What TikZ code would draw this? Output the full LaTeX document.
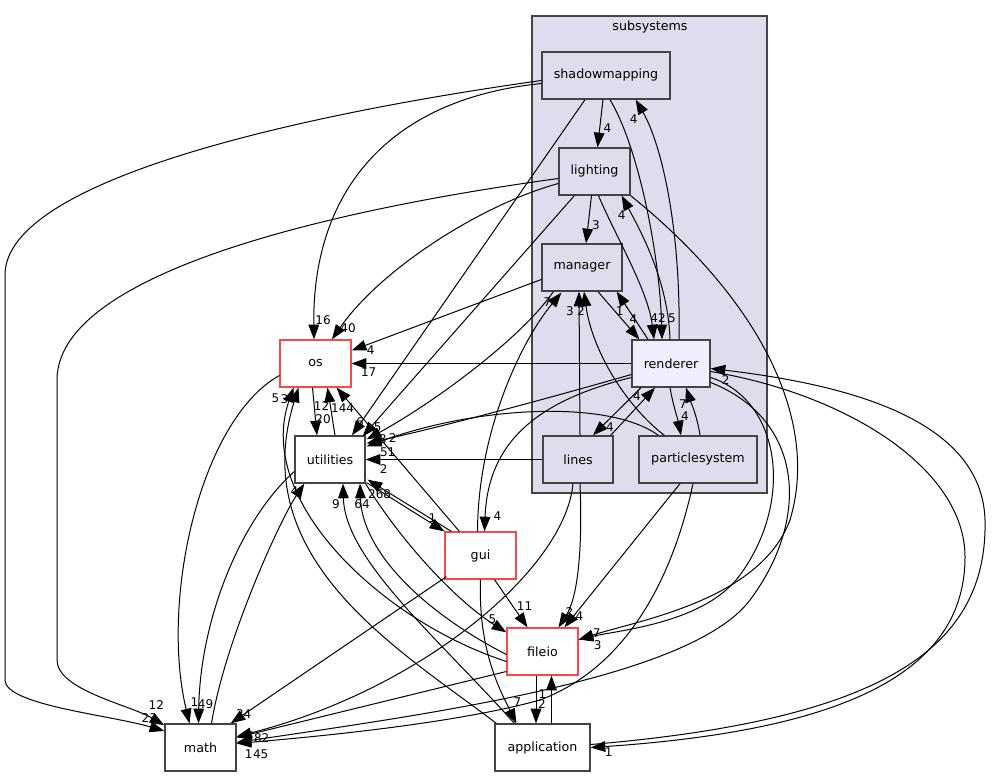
\documentclass[tikz,border=0pt]{standalone}
\usepackage{fontspec}
\setmainfont{DejaVu Sans}
\usetikzlibrary{arrows.meta,calc}
\definecolor{clusterColor}{RGB}{221,221,238}
\definecolor{currentColor}{RGB}{238,238,255}
\definecolor{borderColor}{RGB}{68,68,68}
\definecolor{extColor}{RGB}{255,70,70}
\newcommand{\dirfont}{\fontsize{9.5pt}{11pt}\selectfont}
\newcommand{\lblfont}{\fontsize{9pt}{10pt}\selectfont}
\tikzset{dir/.style={draw=borderColor, fill=white, line width=1pt, align=center, minimum width=53.25pt, minimum height=35.25pt, inner sep=0pt, font=\dirfont}}
\tikzset{subdir/.style={dir, fill=clusterColor}}
\tikzset{curdir/.style={dir, fill=currentColor}}
\tikzset{extdir/.style={dir, draw=extColor}}
\tikzset{cluster/.style={draw=borderColor, fill=clusterColor, line width=1pt, minimum width=176.25pt, minimum height=357.75pt, inner sep=0pt}}
\tikzset{lbl/.style={font=\lblfont, inner sep=0pt}}
\tikzstyle{dep} = [-{Triangle[length=11pt, width=8pt]}, line width=0.75pt]

\begin{document}
\begin{tikzpicture}[x=0.75pt, y=-0.75pt]
	\useasboundingbox (0,0) rectangle (994,777);
	% Nodes
	\node (subsystems) [cluster] at (649.5,254.5) {};
	\node (subsystemsname) [lbl, font=\dirfont] at (650,27) {subsystems};

		\node (shadowmapping) [subdir, minimum width=96pt] at (606,75.5) {shadowmapping};
		\node (lighting) [subdir] at (594.5,171.5) {lighting};
		\node (manager) [subdir, minimum width=60pt] at (582,267.5) {manager};
		\node (renderer) [curdir, minimum width=58.5pt] at (671,363.5) {renderer};
		\node (lines) [subdir, minimum width=52.5pt] at (578,459.5) {lines};
		\node (particlesystem) [subdir, minimum width=88.5pt] at (698,459.5) {particlesystem};

		\node (os) [extdir] at (315.5,363.5) {os};
		\node (utilities) [dir, minimum width=52.5pt] at (330,459.5) {utilities};
		\node (gui) [extdir] at (480.5,555.5) {gui};
		\node (fileio) [extdir] at (542.5,651.5) {fileio};
		\node (math) [dir] at (200.5,747.5) {math};
		\node (application) [dir, minimum width=71.25pt] at (542.5,747.5) {application};

		% Connectors
		% shadowmapping
		\draw [dep] ($(shadowmapping.west)+(0,5)$) .. controls (330,110) and (5,175) .. (5,275) -- (5,680) .. controls (5,705) and (110,715) .. ($(math.west)+(0,-16.5)$) node[lbl, at end, shift={(-15,-13)}] {23};
		\draw [dep] ($(shadowmapping.west)+(0,8)$) .. controls (380,100) and (312,200) .. ($(os.north)+(-1.5,0)$) node[lbl, at end, shift={(9,-19)}] {16};
		\draw [dep] ($(shadowmapping.south)+(-3,0)$) -- ($(lighting.north)+(3,0)$) node[lbl, at end, shift={(10,-19)}] {4};
		\draw [dep] ($(shadowmapping.south)+(-21,0)$) -- ($(utilities.north)+(22,0)$) node[lbl, at end, shift={(8,-13)}] {6};
		\draw [dep] ($(shadowmapping.south)+(4,0)$) .. controls (640,150) and (660,260) .. ($(renderer.north)+(-9,0)$) node[lbl, at end, shift={(10,-21)}] {5};

		% lighting
		\draw [dep] ($(lighting.south)+(-3,0)$) -- ($(manager.north)+(4,0)$) node[lbl, at end, shift={(10,-18)}] {3};
		\draw [dep] ($(lighting.south)+(4,0)$) .. controls (615,235) and (648,290) .. ($(renderer.north)+(-17,0)$) node[lbl, at end, shift={(4,-21)}] {42};
		\draw [dep] ($(lighting.west)+(0,12)$) .. controls (480,205) and (380,270) .. ($(os.north)+(16.5,0)$) node[lbl, at end, shift={(16,-11)}] {40};
		\draw [dep] ($(lighting.west)+(0,7)$) .. controls (400,200) and (57,260) .. (57,380) -- (57,660) .. controls (57,690) and (130,705) .. ($(math.north west)+(0,2)$) node[lbl, at end, shift={(-8,-20)}] {12};
		\draw [dep] ($(lighting.south west)+(16,0)$) -- ($(utilities.north east)+(-3,1)$) node[lbl, at end, shift={(15,-9)}] {5};
		\draw [dep] (lighting.south east) .. controls (760,300) and (820,420) .. (790,520) .. controls (760,600) and (640,620) .. ($(fileio.east)+(0,-12)$) node[lbl, at end, shift={(18,-6)}] {7};

		% manager
		\draw [dep] ($(manager.west)+(0,12)$) -- ($(os.east)+(0,-13)$) node[lbl, at end, shift={(19,0)}] {4};
		\draw [dep] ($(manager.south)+(16,0)$) -- ($(renderer.north west)+(8,0)$) node[lbl, at end, shift={(-6,-20)}] {4};
		\draw [dep] ($(manager.south west)+(12,0)$) .. controls (520,340) and (430,405) .. ($(utilities.north east)+(1,4)$) node[lbl, at end, shift={(16,0)}] {8};

		% renderer
		\draw [dep] ($(renderer.north)+(-23,0)$) -- ($(manager.south east)+(-6,0)$) node[lbl, at end, shift={(3,19)}] {1};
		\draw [dep] ($(renderer.north)+(8,0)$) .. controls (681,230) and (662,145) .. ($(shadowmapping.south east)+(-35,0)$) node[lbl, at end, shift={(-2,19)}] {4};
		\draw [dep] ($(renderer.north)+(-1,0)$) .. controls (668,280) and (640,230) .. ($(lighting.south east)+(-9,0)$) node[lbl, at end, shift={(0,19)}] {4};
		\draw [dep] (renderer.west) -- (os.east) node[lbl, at end, shift={(17,9)}] {17};
		\draw [dep] ($(renderer.west)+(0,11)$) .. controls (560,395) and (450,425) .. ($(utilities.north east)+(1,8)$) node[lbl, at end, shift={(21,9)}] {51};
		\draw [dep] ($(renderer.south)+(-30,0)$) -- ($(lines.north)+(15,0)$) node[lbl, at end, shift={(17,-8)}] {4};
		\draw [dep] ($(renderer.south)+(-1,0)$) .. controls (673,405) and (678,420) .. ($(particlesystem.north)+(-17,0)$) node[lbl, at end, shift={(4,-19)}] {4};
		\draw [dep] ($(renderer.west)+(0,14)$) .. controls (540,400) and (488,440) .. ($(gui.north)+(4,0)$) node[lbl, at end, shift={(13,-15)}] {4};
		\draw [dep] ($(renderer.east)+(0,14)$) .. controls (780,400) and (795,500) .. (740,575) .. controls (705,623) and (620,630) .. ($(fileio.east)+(0,-12)$) node[lbl, at end, shift={(19,6)}] {3};
		\draw [dep] ($(renderer.east)+(0,19)$) .. controls (805,420) and (810,520) .. (750,600) .. controls (690,680) and (420,715) .. ($(math.east)+(0,-5)$) node[lbl, at end, shift={(12,12)}] {1};
		\draw [dep] ($(renderer.east)+(0,8)$) .. controls (850,395) and (965,470) .. (965,557) .. controls (965,670) and (850,730) .. (application.east) node[lbl, at end, shift={(18,5)}] {1};

		% lines and particlesystem
		\draw [dep] ($(lines.north east)+(-3,0)$) -- ($(renderer.south)+(-16,0)$) node[lbl, at end, shift={(-18,8)}] {4};
		\draw [dep] ($(lines.north)+(2,0)$) -- ($(manager.south)+(-3,0)$) node[lbl, at end, shift={(-9,19)}] {3};
		\draw [dep] (lines.west) -- (utilities.east) node[lbl, at end, shift={(18,10)}] {2};
		\draw [dep] ($(lines.south)+(2,0)$) .. controls (583,560) and (576,600) .. ($(fileio.north)+(16,0)$) node[lbl, at end, shift={(11,-15)}] {2};
		\draw [dep] ($(lines.south)+(-5,0)$) .. controls (565,570) and (420,690) .. ($(math.east)+(0,-11)$) node[lbl, at end, shift={(13,0)}] {6};
		\draw [dep] ($(particlesystem.north)+(2,0)$) .. controls (697,415) and (690,400) .. ($(renderer.south)+(15,0)$) node[lbl, at end, shift={(-3,16)}] {7};
		\draw [dep] ($(particlesystem.north west)+(26,0)$) .. controls (625,405) and (592,350) .. ($(manager.south)+(2,0)$) node[lbl, at end, shift={(-3,19)}] {2};
		\draw [dep] ($(particlesystem.north west)+(20,0)$) .. controls (610,400) and (480,405) .. ($(utilities.north east)+(1,11)$) node[lbl, at end, shift={(26,-8)}] {2};
		\draw [dep] ($(particlesystem.south)+(-18,0)$) -- ($(fileio.north)+(22,0)$) node[lbl, at end, shift={(15,-11)}] {4};
		\draw [dep] ($(particlesystem.south)+(-5,0)$) .. controls (670,590) and (620,670) .. (540,700) .. controls (450,725) and (300,738) .. ($(math.east)+(0,-4)$) node[lbl, at end, shift={(24,11)}] {45};

		% os and utilities
		\draw [dep] ($(os.south)+(-3,0)$) -- ($(utilities.north)+(-13,0)$) node[lbl, at end, shift={(6,-16)}] {20};
		\draw [dep] ($(utilities.north)+(5,0)$) -- ($(os.south)+(12,0)$) node[lbl, at end, shift={(-6,18)}] {12};
		\draw [dep] ($(os.west)+(0,12)$) .. controls (200,420) and (160,600) .. ($(math.north)+(-11,0)$) node[lbl, at end, shift={(5,-21)}] {1};
		\draw [dep] ($(utilities.west)+(0,12)$) .. controls (240,520) and (200,620) .. ($(math.north)+(-2,0)$) node[lbl, at end, shift={(7,-19)}] {49};
		\draw [dep] ($(utilities.south east)+(1,-1)$) -- (gui.north west) node[lbl, at end, shift={(-12,-13)}] {1};
		\draw [dep] (utilities.south east) .. controls (400,540) and (455,600) .. ($(fileio.north west)+(0,5)$) node[lbl, at end, shift={(-14,-13)}] {5};
		\draw [dep] ($(math.north)+(11,0)$) .. controls (225,640) and (280,520) .. ($(utilities.south west)+(10,0)$) node[lbl, at end, shift={(-10,7)}] {4};

		% gui
		\draw [dep] ($(gui.north west)+(15,0)$) -- ($(os.south east)+(-15,0)$) node[lbl, at end, shift={(6,20)}] {144};
		\draw [dep] ($(gui.north west)+(7,0)$) -- ($(utilities.south east)+(2,-4)$) node[lbl, at end, shift={(12,14)}] {268};
		\draw [dep] ($(gui.north)+(-3,0)$) .. controls (478,430) and (522,340) .. ($(manager.south west)+(20,1)$) node[lbl, at end, shift={(-14,9)}] {7};
		\draw [dep] ($(gui.south)+(14,0)$) -- ($(fileio.north)+(-15,0)$) node[lbl, at end, shift={(-3,-21)}] {11};
		\draw [dep] (gui.south) .. controls (478,650) and (500,690) .. ($(application.north west)+(22,0)$) node[lbl, at end, shift={(1,-21)}] {7};
		\draw [dep] ($(gui.south west)+(2,-3)$) -- ($(math.north east)+(-6,0)$) node[lbl, at end, shift={(13,-9)}] {34};

		% fileio and application
		\draw [dep] ($(fileio.west)+(0,20)$) -- ($(math.east)+(0,-10)$) node[lbl, at end, shift={(25,1)}] {82};
		\draw [dep] ($(fileio.south)+(-6.5,0)$) -- ($(application.north)+(-6.5,0)$) node[lbl, at end, shift={(6,-19)}] {2};
		\draw [dep] ($(fileio.west)+(0,3)$) .. controls (420,610) and (362,550) .. ($(utilities.south)+(30,0)$) node[lbl, at end, shift={(2,20)}] {64};
		\draw [dep] ($(fileio.west)+(0,10)$) .. controls (380,620) and (255,500) .. ($(os.south)+(-22,0)$) node[lbl, at end, shift={(-18,11)}] {5};
		\draw [dep] ($(application.north)+(9,0)$) -- ($(fileio.south)+(9,0)$) node[lbl, at end, shift={(-9,18)}] {1};
		\draw [dep] ($(application.north west)+(2,0)$) .. controls (400,650) and (245,560) .. ($(os.south)+(-17,0)$) node[lbl, at end, shift={(-14,11)}] {3};
		\draw [dep] ($(application.north west)+(20,0)$) .. controls (440,640) and (345,560) .. ($(utilities.south)+(13,0)$) node[lbl, at end, shift={(-7,20)}] {9};
		\draw [dep] ($(application.east)+(0,-3)$) .. controls (880,720) and (988,650) .. (985,520) .. controls (982,420) and (850,385) .. ($(renderer.east)+(0,5)$) node[lbl, at end, shift={(15,12)}] {2};

\end{tikzpicture}
\end{document}
